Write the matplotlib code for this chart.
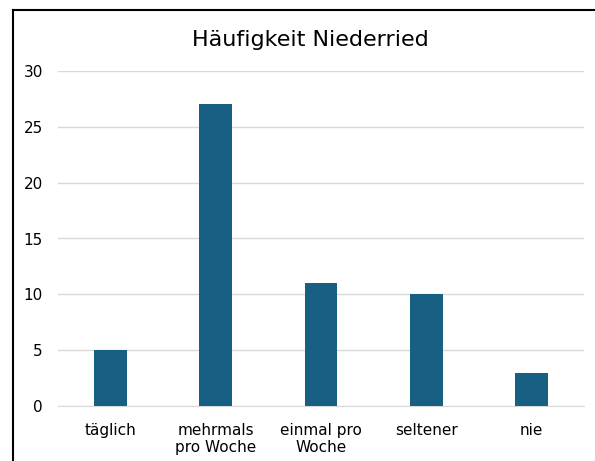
import matplotlib.pyplot as plt
from matplotlib.lines import Line2D

kategorien = ['täglich', 'mehrmals\npro Woche', 'einmal pro\nWoche', 'seltener', 'nie']
anzahl = [5, 27, 11, 10, 3]
y_ticks = [0, 5, 10, 15, 20, 25, 30]

plt.rcParams['font.family'] = ['DejaVu Sans']

fig = plt.figure(figsize=(5.95, 4.61), dpi=100)
ax = fig.add_axes([58/595, 1-406/461, 526/595, 335/461])

x = range(len(kategorien))
ax.bar(x, anzahl, width=0.31, color='#175f83', zorder=3)
ax.set_xlim(-0.5, len(kategorien) - 0.5)
ax.set_ylim(0, 30)
ax.set_yticks(y_ticks)
ax.set_xticks(list(x))
ax.set_xticklabels(kategorien, fontsize=11, linespacing=1.2)
ax.tick_params(axis='y', labelsize=11, length=0, pad=11)
ax.tick_params(axis='x', length=0, pad=12)
ax.grid(axis='y', color='#d9d9d9', linewidth=1, zorder=0)
for s in ['top', 'right', 'left']:
    ax.spines[s].set_visible(False)
ax.spines['bottom'].set_color('#d9d9d9')

fig.text(310/595, 1-40/461, 'Häufigkeit Niederried', fontsize=16, ha='center', va='center')

# Rahmen: nur links und oben sichtbar
x0 = 13/595
y0 = 1 - 10/461
fig.add_artist(Line2D([x0, x0], [0, y0], transform=fig.transFigure, color='black', linewidth=1.5))
fig.add_artist(Line2D([x0, 1.0], [y0, y0], transform=fig.transFigure, color='black', linewidth=1.5))

fig.savefig('out.png', dpi=100)
